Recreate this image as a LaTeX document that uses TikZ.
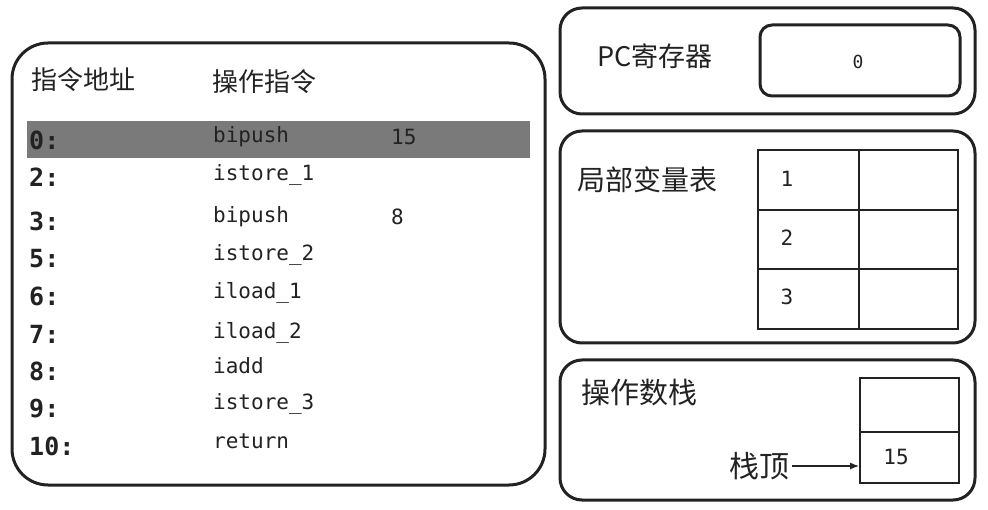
\documentclass[tikz,border=0pt]{standalone}
\usepackage{fontspec}
\setmainfont{Liberation Sans}
\newfontfamily\cjk{Noto Sans CJK SC}
\newfontfamily\codefont{DejaVu Sans Mono}
\usetikzlibrary{arrows.meta}
\definecolor{ink}{HTML}{222222}
\definecolor{bar}{HTML}{7A7A7A}
\begin{document}
\begin{tikzpicture}[x=1pt,y=-1pt,
  panel/.style={draw=ink,line width=3pt,rounded corners=22pt,inner sep=0pt},
  cell/.style={draw=ink,line width=1.6pt,inner sep=0pt,minimum width=100pt},
  head/.style={anchor=west,inner sep=0pt,text=ink,font=\cjk\fontsize{26}{26}\selectfont},
  bighead/.style={anchor=west,inner sep=0pt,text=ink,font=\cjk\fontsize{29}{29}\selectfont},
  addr/.style={anchor=west,inner sep=0pt,text=ink,font=\codefont\bfseries\fontsize{25}{25}\selectfont},
  code/.style={anchor=west,inner sep=0pt,text=ink,font=\codefont\fontsize{21}{21}\selectfont},
  small/.style={inner sep=0pt,text=ink,font=\codefont\fontsize{21}{21}\selectfont}]
\useasboundingbox (0,0) rectangle (988,510);
% left panel
\node (left) [panel,rounded corners=36pt,minimum width=533pt,minimum height=442pt] at (278.5,264) {};
\node (hl) [fill=bar,inner sep=0pt,minimum width=503pt,minimum height=37pt] at (278.5,139.5) {};
\node (h1) [head] at (31,80) {指令地址};
\node (h2) [head] at (212,82) {操作指令};
\node (a0) [addr] at (29,140) {0:};
\node (a2) [addr] at (29,177) {2:};
\node (a3) [addr] at (29,221) {3:};
\node (a5) [addr] at (29,259) {5:};
\node (a6) [addr] at (29,296) {6:};
\node (a7) [addr] at (29,334) {7:};
\node (a8) [addr] at (29,371) {8:};
\node (a9) [addr] at (29,409) {9:};
\node (a10) [addr] at (29,446) {10:};
\node (c0) [code] at (213,137) {bipush};
\node (c2) [code] at (213,175) {istore\_1};
\node (c3) [code] at (213,217) {bipush};
\node (c5) [code] at (213,255) {istore\_2};
\node (c6) [code] at (213,293) {iload\_1};
\node (c7) [code] at (213,333) {iload\_2};
\node (c8) [code] at (213,366) {iadd};
\node (c9) [code] at (213,404) {istore\_3};
\node (c10) [code] at (213,441) {return};
\node (v0) [code] at (391,137) {15};
\node (v3) [code] at (391,217) {8};
% PC register
\node (pc) [panel,minimum width=415pt,minimum height=106pt] at (767.5,61) {};
\node (pcl) [bighead,font=\cjk\fontsize{27}{27}\selectfont] at (597,56) {PC寄存器};
\node (pcv) [panel,rounded corners=12pt,minimum width=200pt,minimum height=71pt] at (860,60.5) {};
\node (pcz) [small,font=\codefont\fontsize{18}{18}\selectfont] at (858,62) {0};
% local variable table
\node (lv) [panel,minimum width=415pt,minimum height=212pt] at (767.5,237) {};
\node (lvl) [bighead,font=\cjk\fontsize{28}{28}\selectfont] at (577,180) {局部变量表};
\node (t1a) [cell,minimum width=101pt,minimum height=60pt] at (808.5,180) {};
\node (t1b) [cell,minimum width=99pt,minimum height=60pt] at (908.5,180) {};
\node (t2a) [cell,minimum width=101pt,minimum height=59pt] at (808.5,239.5) {};
\node (t2b) [cell,minimum width=99pt,minimum height=59pt] at (908.5,239.5) {};
\node (t3a) [cell,minimum width=101pt,minimum height=60pt] at (808.5,299) {};
\node (t3b) [cell,minimum width=99pt,minimum height=60pt] at (908.5,299) {};
\node (n1) [small] at (787,179) {1};
\node (n2) [small] at (787,238) {2};
\node (n3) [small] at (787,297) {3};
% operand stack
\node (os) [panel,minimum width=415pt,minimum height=140pt] at (767.5,430) {};
\node (osl) [bighead] at (581,393) {操作数栈};
\node (s1) [cell,minimum width=99pt,minimum height=54pt] at (909.5,405) {};
\node (s2) [cell,minimum width=99pt,minimum height=51pt] at (909.5,457.5) {};
\node (sv) [small] at (896,457) {15};
\node (top) [bighead,font=\cjk\fontsize{30}{30}\selectfont] at (729,466) {栈顶};
\draw[ink,line width=1.5pt,-{Latex[length=9pt,width=7pt]}] ([xshift=3pt]top.east) -- (s2.west |- top.east);
\end{tikzpicture}
\end{document}
